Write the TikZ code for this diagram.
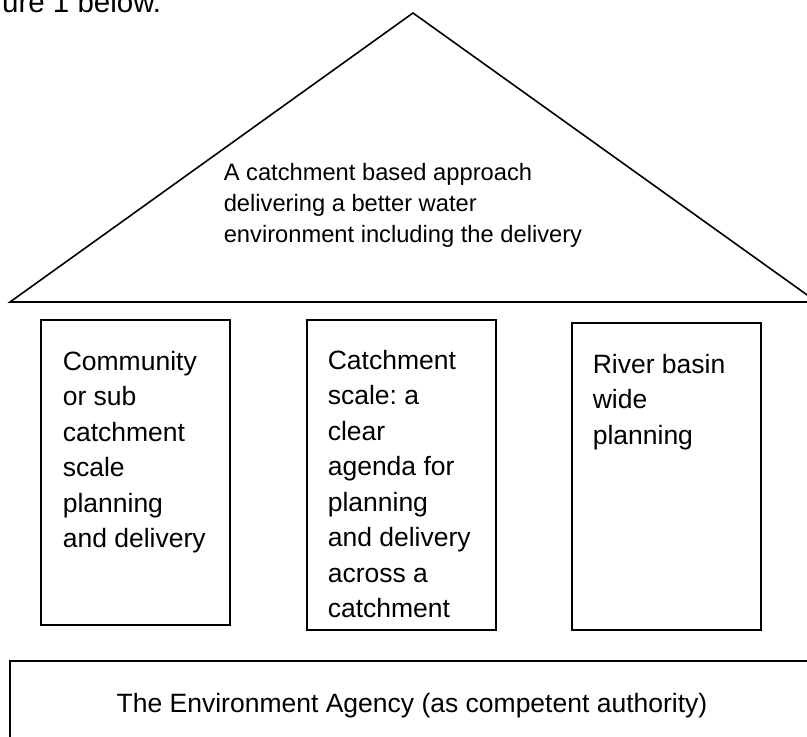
\documentclass[tikz,border=0pt]{standalone}
\usepackage{fontspec}
\setmainfont{Liberation Sans}
\frenchspacing
\begin{document}
\begin{tikzpicture}[x=1pt,y=-1pt,line width=1.6pt,
  pillar/.style={draw=black,anchor=north west,inner sep=0pt,minimum width=189pt},
  boxtext/.style={anchor=base west,inner sep=0pt,font=\fontsize{26.5}{35.5}\selectfont},
  rooftext/.style={anchor=base west,inner sep=0pt,font=\fontsize{23.7}{31}\selectfont},
  captext/.style={anchor=base east,inner sep=0pt,font=\fontsize{29.5}{34}\selectfont}]
\useasboundingbox (0,0) rectangle (807,737);
\clip (0,0) rectangle (807,737);
% caption fragment
\node[captext] (cap) at (162,12) {ure 1 below.};
% roof
\coordinate (rl) at (10,302);
\coordinate (ra) at (413,13);
\coordinate (rr) at (817,302);
\draw[line join=miter] (rl) -- (ra) -- (rr) -- cycle;
\begin{scope}
\clip (0,0) rectangle (807,247);
\node[rooftext] (roof) at (223,180) {\begin{tabular}[t]{@{}l@{}}A catchment based approach\\delivering a better water\\environment including the delivery\end{tabular}};
\end{scope}
% pillars
\node[pillar,minimum height=305pt] (b1) at (40,319) {};
\node[pillar,minimum height=310pt] (b2) at (306,319) {};
\node[pillar,minimum height=307pt] (b3) at (571,322) {};
\node[boxtext] (t1) at (62,370) {\begin{tabular}[t]{@{}l@{}}Community\\or sub\\catchment\\scale\\planning\\and delivery\end{tabular}};
\node[boxtext] (t2) at (327,369) {\begin{tabular}[t]{@{}l@{}}Catchment\\scale: a\\clear\\agenda for\\planning\\and delivery\\across a\\catchment\end{tabular}};
\node[boxtext] (t3) at (592,373) {\begin{tabular}[t]{@{}l@{}}River basin\\wide\\planning\end{tabular}};
% foundation
\node[draw=black,anchor=north west,inner sep=0pt,minimum width=830pt,minimum height=120pt] (base) at (9,660) {};
\node[anchor=base,inner sep=0pt,font=\fontsize{26.5}{35.5}\selectfont] (bt) at (412,712) {The Environment Agency (as competent authority)};
\end{tikzpicture}
\end{document}
